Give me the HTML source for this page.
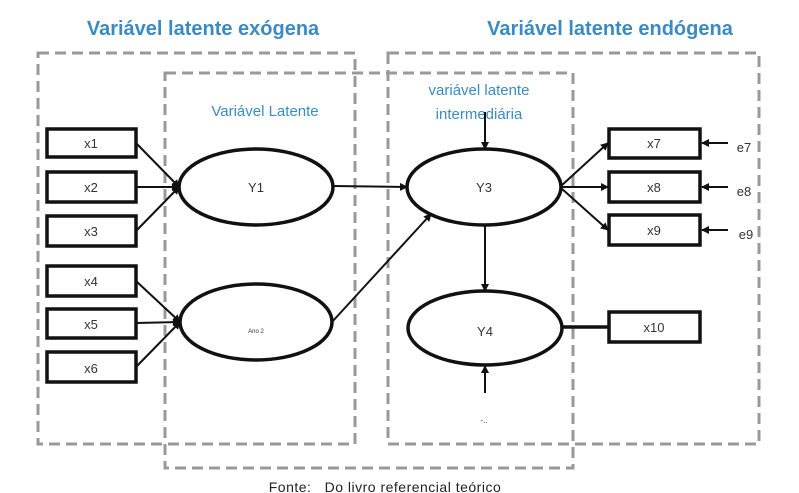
<!DOCTYPE html>
<html><head><meta charset="utf-8"><style>
html,body{margin:0;padding:0;background:#fff;width:799px;height:493px;overflow:hidden}
</style></head><body>
<svg width="799" height="493" xmlns="http://www.w3.org/2000/svg" font-family="Liberation Sans, sans-serif">
<defs><marker id="a" markerWidth="8" markerHeight="8" refX="7" refY="4" orient="auto" markerUnits="userSpaceOnUse"><path d="M0,0 L8,4 L0,8 z" fill="#111"/></marker></defs>
<g fill="none" stroke="#999" stroke-width="3" stroke-dasharray="11,6">
<rect x="38" y="53" width="317" height="391"/>
<rect x="165" y="73" width="408" height="395"/>
<rect x="388" y="53" width="371" height="391"/>
</g>
<g font-weight="bold" fill="#3a8bc2" font-size="20">
<text x="203" y="35" text-anchor="middle">Variável latente exógena</text>
<text x="610" y="35" text-anchor="middle">Variável latente endógena</text>
</g>
<g fill="#3a8bc2" font-size="15" text-anchor="middle">
<text x="265" y="116">Variável Latente</text>
<text x="479" y="95">variável latente</text>
<text x="479" y="119">intermediária</text>
</g>
<g fill="#fff" stroke="#111" stroke-width="3.5">
<rect x="47" y="129" width="89" height="28"/>
<rect x="47" y="172" width="89" height="30"/>
<rect x="47" y="216" width="89" height="30"/>
<rect x="47" y="266" width="89" height="30"/>
<rect x="47" y="309" width="89" height="29"/>
<rect x="47" y="352" width="89" height="30"/>
<rect x="609" y="129" width="91" height="29"/>
<rect x="609" y="172" width="91" height="30"/>
<rect x="609" y="215" width="91" height="30"/>
<rect x="609" y="312" width="91" height="30"/>
<ellipse cx="256" cy="187" rx="77" ry="38"/>
<ellipse cx="256" cy="322" rx="76" ry="38"/>
<ellipse cx="484" cy="187" rx="77" ry="38"/>
<ellipse cx="485" cy="328" rx="77" ry="37"/>
</g>
<g stroke="#111" stroke-width="2" marker-end="url(#a)" fill="none">
<line x1="136" y1="143" x2="179" y2="187"/>
<line x1="136" y1="187" x2="179" y2="187"/>
<line x1="136" y1="231" x2="179" y2="187"/>
<line x1="136" y1="281" x2="180" y2="322"/>
<line x1="136" y1="323" x2="180" y2="322"/>
<line x1="136" y1="367" x2="180" y2="322"/>
<line x1="333" y1="186" x2="407" y2="187"/>
<line x1="332" y1="322" x2="431" y2="214"/>
<line x1="485" y1="112" x2="485" y2="149"/>
<line x1="485" y1="225" x2="485" y2="291"/>
<line x1="485" y1="393" x2="485" y2="366"/>
<line x1="561" y1="186" x2="608" y2="143"/>
<line x1="561" y1="187" x2="608" y2="187"/>
<line x1="561" y1="188" x2="608" y2="230"/>
<line x1="728" y1="143" x2="702" y2="143"/>
<line x1="728" y1="187" x2="702" y2="187"/>
<line x1="728" y1="230" x2="702" y2="230"/>
</g>
<line x1="562" y1="327" x2="609" y2="327" stroke="#111" stroke-width="3.5"/>
<g fill="#333" font-size="13" text-anchor="middle">
<text x="91" y="148">x1</text><text x="91" y="192">x2</text><text x="91" y="236">x3</text>
<text x="91" y="286">x4</text><text x="91" y="329">x5</text><text x="91" y="373">x6</text>
<text x="654" y="148">x7</text><text x="654" y="192">x8</text><text x="654" y="235">x9</text><text x="654" y="332">x10</text>
<text x="256" y="192">Y1</text><text x="484" y="192">Y3</text><text x="485" y="336">Y4</text>
<text x="256" y="333" font-size="6">Ano 2</text>
<text x="744" y="152">e7</text><text x="744" y="196">e8</text><text x="746" y="239">e9</text>
<text x="484" y="423" font-size="8">-..</text>
</g>
<text x="385" y="492" text-anchor="middle" font-size="14" fill="#222" xml:space="preserve" letter-spacing="0.5">Fonte:   Do livro referencial teórico</text>
</svg>
</body></html>
